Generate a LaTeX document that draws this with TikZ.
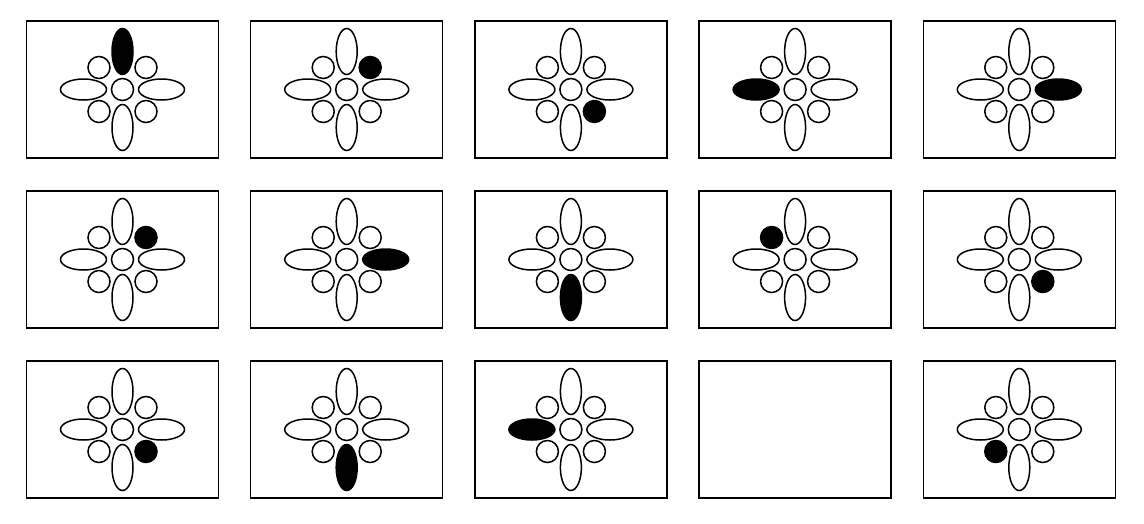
\documentclass[tikz,border=0pt]{standalone}
\usepackage{tikz}
\usetikzlibrary{calc}

\begin{document}
\begin{tikzpicture}[
  x=1pt, y=-1pt,
  panel/.style={draw, line width=1.4pt, minimum width=192pt, minimum height=137pt, inner sep=0pt},
  elem/.style={draw, line width=1.5pt}
]
\useasboundingbox (0,0) rectangle (1144,523);

% one panel per (col,row), the last entry is the black part
\foreach \col/\row/\on in {0/0/N, 1/0/NE, 2/0/SE, 3/0/W, 4/0/E,
                           0/1/NE, 1/1/E, 2/1/S, 3/1/NW, 4/1/SE,
                           0/2/SE, 1/2/S, 2/2/W, 3/2/none, 4/2/SW}{
  \node[panel] (p\col\row) at ({122.5+224.2*\col}, {89.5+170*\row}) {};
  \def\none{none}
  \ifx\on\none\else
  \foreach \part/\dx/\dy/\rx/\ry in {N/0/-38/10.5/23, S/0/38/10.5/23,
                                      W/-39/0/23/10.5, E/39/0/23/10.5,
                                      C/0/0/11/11, NE/23.5/-22/11/11, NW/-23.5/-22/11/11,
                                      SE/23.5/22/11/11, SW/-23.5/22/11/11}{
    \ifx\part\on\def\tint{black}\else\def\tint{none}\fi
    \draw[elem, fill=\tint] ($(p\col\row.center)+(\dx,\dy)$)
      ellipse [x radius=\rx pt, y radius=\ry pt];
  }
  \fi
}
\end{tikzpicture}
\end{document}
